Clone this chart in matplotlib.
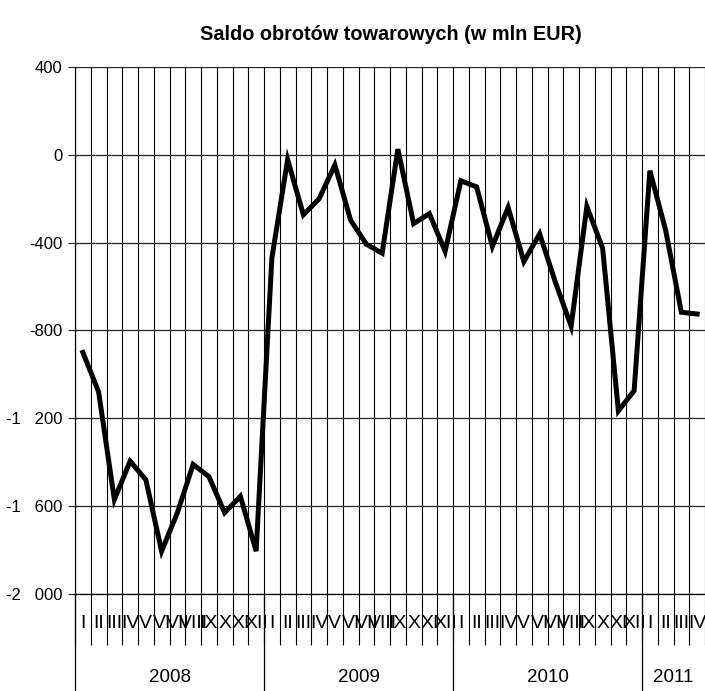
import numpy as np
import matplotlib
matplotlib.use("Agg")
import matplotlib.pyplot as plt
from matplotlib.ticker import FuncFormatter
from matplotlib.transforms import blended_transform_factory

# monthly balance, mln EUR, Jan 2008 - Apr 2011
years = ['2008', '2009', '2010', '2011']
months_per_year = [12, 12, 12, 4]
roman = ['I', 'II', 'III', 'IV', 'V', 'VI', 'VII', 'VIII', 'IX', 'X', 'XI', 'XII']

saldo_2008 = [-900, -1080, -1570, -1395, -1480, -1805, -1630, -1410, -1465, -1630, -1555, -1805]
saldo_2009 = [-470, -22, -273, -200, -46, -298, -407, -448, 26, -313, -268, -439]
saldo_2010 = [-118, -146, -417, -240, -486, -360, -580, -780, -235, -425, -1166, -1074]
saldo_2011 = [-72, -343, -717, -725]

values = saldo_2008 + saldo_2009 + saldo_2010 + saldo_2011
month_labels = [roman[i] for n in months_per_year for i in range(n)]

plt.rcParams['font.family'] = ['Liberation Sans', 'DejaVu Sans']

W, H = 705, 691
fig = plt.figure(figsize=(W / 100, H / 100), dpi=100)
ax = fig.add_axes([75 / W, 97 / H, 630 / W, 527 / H])

n = len(values)
x = np.arange(n) + 0.5
ax.plot(x, values, color='black', lw=3.6, solid_joinstyle='miter', zorder=5)

ax.set_xlim(0, n)
ax.set_ylim(-2000, 400)

# y axis, thousands separated with a space
ax.set_yticks(np.arange(-2000, 401, 400))
ax.yaxis.set_major_formatter(FuncFormatter(
    lambda v, p: ('-' if v < 0 else '') + f'{abs(int(v)):,}'.replace(',', '   ')))
ax.tick_params(axis='y', length=5, width=0.8, pad=4, labelsize=12, color='#222')
ax.yaxis.grid(True, color='#222', lw=0.9)

# month boundaries
ax.set_xticks(np.arange(0, n + 1))
ax.set_xticklabels([])
ax.tick_params(axis='x', length=37, width=0.8, color='black')
ax.xaxis.grid(True, color='black', lw=0.8)

ax.spines['right'].set_visible(False)
ax.spines['top'].set_visible(False)
ax.spines['left'].set_linewidth(0.9)
ax.spines['bottom'].set_linewidth(0.9)

trans = blended_transform_factory(ax.transData, fig.transFigure)

# month labels
for xi, lab in zip(x, month_labels):
    ax.text(xi, 1 - 623 / H, lab, transform=trans, ha='center', va='center',
            fontsize=14)

# year separators and labels
bounds = np.concatenate([[0], np.cumsum(months_per_year)])
for b in bounds[:-1]:
    ax.plot([b, b], [0, 97 / H], transform=trans, color='black', lw=0.9, clip_on=False)
for yr, b0, b1 in zip(years, bounds[:-1], bounds[1:]):
    ax.text((b0 + b1) / 2, 1 - 678 / H, yr, transform=trans, ha='center', va='center',
            fontsize=13.5)

fig.text(391 / W, 1 - 34 / H, 'Saldo obrotów towarowych (w mln EUR)', ha='center',
         va='center', fontsize=14.3, fontweight='bold')

fig.savefig('out.png', dpi=100)
